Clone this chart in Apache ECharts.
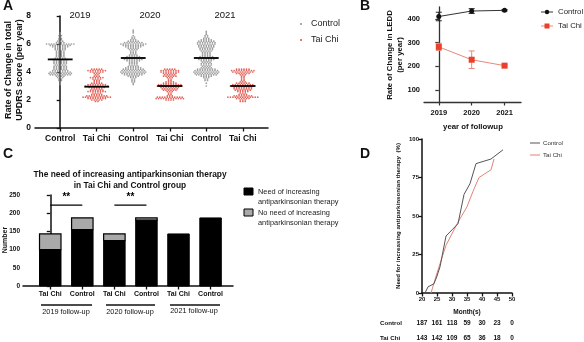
<!DOCTYPE html>
<html><head><meta charset="utf-8">
<script src="https://cdn.jsdelivr.net/npm/echarts@6/dist/echarts.min.js"></script>
<style>html,body{margin:0;padding:0;background:#fff}#chart{width:584px;height:342px}</style>
</head><body><div id="chart"></div>
<script>
const FONT = '"Liberation Sans", Arial, sans-serif';

// ---- Panel A: rate of change in total UPDRS score, binned as [value, count]
const updrsGroups = ['Control', 'Tai Chi', 'Control', 'Tai Chi', 'Control', 'Tai Chi'];
const updrsYears = ['2019', '2020', '2021'];
const ctl2019 = [[3.1,1],[3.2,1],[3.3,1],[3.4,2],[3.5,2],[3.6,3],[3.7,4],[3.8,9],[3.9,10],[4.0,9],[4.1,7],[4.2,6],[4.3,6],[4.4,6],[4.5,5],[4.6,6],[4.7,6],[4.8,6],[4.9,7],[5.0,5],[5.1,4],[5.2,4],[5.3,4],[5.4,4],[5.5,4],[5.6,5],[5.7,5],[5.8,7],[5.9,9],[6.0,12],[6.1,4],[6.2,3],[6.3,2],[6.4,2],[6.5,1],[6.6,2],[6.7,1],[6.8,1]];
const tc2019 = [[1.9,2],[2.0,5],[2.1,8],[2.2,12],[2.3,9],[2.4,5],[2.5,4],[2.6,8],[2.7,6],[2.8,5],[2.9,7],[3.0,10],[3.1,8],[3.2,5],[3.3,3],[3.4,3],[3.5,4],[3.6,6],[3.7,3],[3.8,2],[3.9,3],[4.0,6],[4.1,8],[4.2,5]];
const ctl2020 = [[3.1,1],[3.2,1],[3.3,2],[3.4,2],[3.5,2],[3.6,3],[3.7,5],[3.8,8],[3.9,10],[4.0,11],[4.1,10],[4.2,9],[4.3,7],[4.4,5],[4.5,4],[4.6,4],[4.7,4],[4.8,6],[4.9,8],[5.0,9],[5.1,6],[5.2,4],[5.3,3],[5.4,3],[5.5,3],[5.6,4],[5.7,5],[5.8,7],[5.9,9],[6.0,11],[6.1,8],[6.2,5],[6.3,3],[6.4,2],[6.5,2],[6.6,1],[6.8,1],[6.9,1],[7.0,1]];
const tc2020 = [[2.0,4],[2.1,12],[2.2,11],[2.3,3],[2.4,2],[2.5,2],[2.6,3],[2.7,6],[2.8,7],[2.9,8],[3.0,11],[3.1,10],[3.2,6],[3.3,4],[3.4,2],[3.5,2],[3.6,3],[3.7,6],[3.8,5],[3.9,6],[4.0,8],[4.1,8],[4.2,5]];
const ctl2021 = [[3.0,1],[3.2,1],[3.4,2],[3.5,2],[3.6,3],[3.7,5],[3.8,9],[3.9,10],[4.0,11],[4.1,10],[4.2,8],[4.3,5],[4.4,4],[4.5,5],[4.6,5],[4.7,4],[4.8,5],[4.9,7],[5.0,9],[5.1,6],[5.2,4],[5.3,4],[5.4,4],[5.5,5],[5.6,6],[5.7,6],[5.8,7],[5.9,7],[6.0,8],[6.1,8],[6.2,7],[6.3,5],[6.4,3],[6.5,2],[6.6,2],[6.7,1],[6.8,1],[6.9,1]];
const tc2021 = [[1.9,3],[2.0,3],[2.1,6],[2.2,13],[2.3,8],[2.4,4],[2.5,3],[2.6,5],[2.7,7],[2.8,8],[2.9,8],[3.0,11],[3.1,9],[3.2,6],[3.3,3],[3.4,2],[3.5,2],[3.6,2],[3.7,2],[3.8,3],[3.9,6],[4.0,9],[4.1,10],[4.2,6]];
const updrsMeans = [4.9, 2.95, 5.0, 3.0, 5.0, 3.0];

// ---- Panel B: rate of change in LEDD (mean, error)
const leddYears = ['2019', '2020', '2021'];
const leddControl = [410, 433, 436];
const leddControlErr = [18, 10, 3];
const leddTaiChi = [282, 228, 203];
const leddTaiChiErr = [15, 37, 5];

// ---- Panel C: counts needing / not needing more therapy
const therapyBars = ['Tai Chi', 'Control', 'Tai Chi', 'Control', 'Tai Chi', 'Control'];
const therapyNeed = [100, 155, 125, 181, 143, 187];
const therapyNoNeed = [43, 32, 18, 6, 0, 0];
const followups = ['2019 follow-up', '2020 follow-up', '2021 follow-up'];
const significance = [[0, 1, '**'], [2, 3, '**']];

// ---- Panel D: cumulative need for increasing therapy (%)
const ctlCurve = [[21,0],[22,4],[24,6],[25,11],[26,17],[28,37],[30,41],[32,45],[34,64],[36,71],[38,84],[43,87],[47,93]];
const tcCurve = [[23,0],[25,13],[26,19],[28,31],[32,46],[35,56],[37,66],[39,75],[43,80],[44,87]];
const riskMonths = [20, 25, 30, 35, 40, 45, 50];
const riskControl = [187, 161, 118, 59, 30, 23, 0];
const riskTaiChi = [143, 142, 109, 65, 36, 18, 0];

// beeswarm-style layout: each bin becomes a centred row of points
function swarm(bins, center, step) {
  const pts = [];
  bins.forEach(([v, n]) => {
    for (let k = 0; k < n; k++) pts.push([center + (k - (n - 1) / 2) * step, v]);
  });
  return pts;
}
const swarmSets = [ctl2019, tc2019, ctl2020, tc2020, ctl2021, tc2021];
const GRAY_PT = '#8e8e8e', RED_PT = '#df4a40';

const axisBlack = { lineStyle: { color: '#111', width: 1.5 } };
const tickBlack = { show: true, length: 3.5, lineStyle: { color: '#111', width: 1.3 } };

const series = [];
swarmSets.forEach((bins, i) => {
  series.push({
    type: 'scatter', xAxisIndex: 0, yAxisIndex: 0, silent: true,
    symbol: 'circle', symbolSize: 1.7,
    itemStyle: { color: i % 2 ? RED_PT : GRAY_PT, opacity: 0.85 },
    data: swarm(bins, i, 0.068)
  });
});
series.push({
  type: 'custom', xAxisIndex: 0, yAxisIndex: 0, silent: true, z: 5,
  data: updrsMeans.map((m, i) => [i, m]),
  encode: { x: 0, y: 1 },
  renderItem(params, api) {
    const a = api.coord([api.value(0) - 0.34, api.value(1)]);
    const b = api.coord([api.value(0) + 0.34, api.value(1)]);
    return { type: 'line', shape: { x1: a[0], y1: a[1], x2: b[0], y2: b[1] }, style: { stroke: '#000', lineWidth: 1.8 } };
  }
});

// Panel B lines + error bars
function errSeries(vals, errs, color) {
  return {
    type: 'custom', xAxisIndex: 1, yAxisIndex: 1, silent: true, z: 3,
    data: vals.map((v, i) => [i, v, errs[i]]),
    encode: { x: 0, y: 1 },
    renderItem(params, api) {
      const x = api.value(0), v = api.value(1), e = api.value(2);
      const lo = api.coord([x, v - e]), hi = api.coord([x, v + e]);
      const st = { stroke: color, lineWidth: 1 };
      return { type: 'group', children: [
        { type: 'line', shape: { x1: lo[0], y1: lo[1], x2: hi[0], y2: hi[1] }, style: st },
        { type: 'line', shape: { x1: lo[0] - 3, y1: lo[1], x2: lo[0] + 3, y2: lo[1] }, style: st },
        { type: 'line', shape: { x1: hi[0] - 3, y1: hi[1], x2: hi[0] + 3, y2: hi[1] }, style: st }
      ] };
    }
  };
}
series.push(errSeries(leddControl, leddControlErr, '#222'));
series.push(errSeries(leddTaiChi, leddTaiChiErr, '#e58a7a'));
series.push({
  type: 'line', xAxisIndex: 1, yAxisIndex: 1, silent: true, z: 4,
  data: leddControl.map((v, i) => [i, v]),
  symbol: 'circle', symbolSize: 5,
  lineStyle: { color: '#333', width: 1 }, itemStyle: { color: '#111' }
});
series.push({
  type: 'line', xAxisIndex: 1, yAxisIndex: 1, silent: true, z: 4,
  data: leddTaiChi.map((v, i) => [i, v]),
  symbol: 'rect', symbolSize: 6,
  lineStyle: { color: '#e58a7a', width: 1 }, itemStyle: { color: '#e8402a' }
});

// Panel C stacked bars
series.push({
  type: 'custom', xAxisIndex: 2, yAxisIndex: 2, silent: true,
  data: therapyNeed.map((n, i) => [i, n, therapyNoNeed[i]]),
  encode: { x: 0, y: 1 },
  renderItem(params, api) {
    const x = api.value(0), need = api.value(1), no = api.value(2);
    const w = api.size([0.67, 0])[0];
    const p0 = api.coord([x, 0]), p1 = api.coord([x, need]), p2 = api.coord([x, need + no]);
    const kids = [{ type: 'rect', shape: { x: p0[0] - w / 2, y: p1[1], width: w, height: p0[1] - p1[1] }, style: { fill: '#000', stroke: '#000', lineWidth: 1 } }];
    if (no > 0) kids.push({ type: 'rect', shape: { x: p0[0] - w / 2, y: p2[1], width: w, height: p1[1] - p2[1] }, style: { fill: '#a9a9a9', stroke: '#000', lineWidth: 1.2 } });
    return { type: 'group', children: kids };
  }
});
series.push({
  type: 'custom', xAxisIndex: 2, yAxisIndex: 2, silent: true,
  data: significance.map(s => [s[0], s[1], s[2]]),
  encode: { x: 0 },
  renderItem(params, api) {
    const a = api.coord([api.value(0), 222]), b = api.coord([api.value(1), 222]);
    return { type: 'group', children: [
      { type: 'line', shape: { x1: a[0], y1: a[1], x2: b[0], y2: b[1] }, style: { stroke: '#000', lineWidth: 1.3 } },
      { type: 'text', style: { text: significance[params.dataIndex][2], x: (a[0] + b[0]) / 2, y: a[1] - 3, align: 'center', verticalAlign: 'bottom', font: 'bold 10px ' + FONT, fill: '#000' } }
    ] };
  }
});

// Panel D curves
series.push({
  type: 'line', xAxisIndex: 3, yAxisIndex: 3, silent: true, symbol: 'none',
  data: tcCurve, lineStyle: { color: '#e0837a', width: 1 }
});
series.push({
  type: 'line', xAxisIndex: 3, yAxisIndex: 3, silent: true, symbol: 'none',
  data: ctlCurve, lineStyle: { color: '#555', width: 1 }
});
// numbers at risk, placed under the month ticks
function riskRow(counts, dy) {
  return {
    type: 'custom', xAxisIndex: 3, yAxisIndex: 3, silent: true, clip: false,
    data: riskMonths.map((m, i) => [m, counts[i]]),
    encode: { x: 0 },
    renderItem(params, api) {
      const p = api.coord([api.value(0), 0]);
      return { type: 'text', style: { text: String(api.value(1)), x: p[0], y: p[1] + dy, align: 'center', verticalAlign: 'middle', font: 'bold 6.5px ' + FONT, fill: '#111' } };
    }
  };
}
series.push(riskRow(riskControl, 30));
series.push(riskRow(riskTaiChi, 45));

function txt(text, x, y, font, opts) {
  return Object.assign({ type: 'text', x, y, style: Object.assign({ text, font: font + ' ' + FONT, fill: '#111', align: 'center', verticalAlign: 'middle' }, opts && opts.style || {}) }, opts && opts.el || {});
}
function hline(x1, x2, y, color, w) {
  return { type: 'line', shape: { x1, y1: y, x2, y2: y }, style: { stroke: color, lineWidth: w || 1 } };
}

const graphics = [
  // panel letters
  txt('A', 8, 6, 'bold 14px'), txt('B', 365, 6, 'bold 14px'),
  txt('C', 8, 154, 'bold 14px'), txt('D', 365, 154, 'bold 14px'),
  // panel A
  txt(updrsYears[0], 80, 15, '9.5px'), txt(updrsYears[1], 150, 15, '9.5px'), txt(updrsYears[2], 225, 15, '9.5px'),
  { type: 'text', x: 14.5, y: 70, rotation: Math.PI / 2, style: { text: 'Rate of Change in total\nUPDRS score (per year)', font: 'bold 9px ' + FONT, fill: '#111', align: 'center', verticalAlign: 'middle', lineHeight: 11 } },
  { type: 'circle', shape: { cx: 301, cy: 24, r: 1 }, style: { fill: GRAY_PT } },
  { type: 'circle', shape: { cx: 301, cy: 40, r: 1 }, style: { fill: RED_PT } },
  txt('Control', 311, 24, '9px', { style: { align: 'left', fill: '#222' } }),
  txt('Tai Chi', 311, 40, '9px', { style: { align: 'left', fill: '#222' } }),
  // panel B
  { type: 'text', x: 395, y: 55, rotation: Math.PI / 2, style: { text: 'Rate of Change in LEDD\n(per year)', font: 'bold 7.8px ' + FONT, fill: '#111', align: 'center', verticalAlign: 'middle', lineHeight: 10 } },
  txt('year of followup', 473, 127, 'bold 7.8px'),
  hline(541, 553, 12, '#333', 1), { type: 'circle', shape: { cx: 547, cy: 12, r: 2.2 }, style: { fill: '#111' } },
  hline(541, 553, 26, '#e58a7a', 1), { type: 'rect', shape: { x: 544.5, y: 23.5, width: 5, height: 5 }, style: { fill: '#e8402a' } },
  txt('Control', 558, 12, '7.8px', { style: { align: 'left', fill: '#222' } }),
  txt('Tai Chi', 558, 26, '7.8px', { style: { align: 'left', fill: '#222' } }),
  // panel C
  txt('The need of increasing antiparkinsonian therapy\nin Tai Chi and Control group', 130, 180, 'bold 8.4px', { style: { lineHeight: 10.5 } }),
  { type: 'text', x: 5, y: 240, rotation: Math.PI / 2, style: { text: 'Number', font: 'bold 7px ' + FONT, fill: '#111', align: 'center', verticalAlign: 'middle' } },
  hline(41, 92, 305, '#111', 1.3), hline(106, 155, 305, '#111', 1.3), hline(170, 220, 305, '#111', 1.3),
  txt(followups[0], 66, 312, '7.3px'), txt(followups[1], 130, 312, '7.3px'), txt(followups[2], 194, 311, '7.3px'),
  { type: 'rect', shape: { x: 244, y: 188, width: 9, height: 7 }, style: { fill: '#000', stroke: '#000' } },
  { type: 'rect', shape: { x: 244, y: 209, width: 9, height: 7 }, style: { fill: '#a9a9a9', stroke: '#000', lineWidth: 1 } },
  txt('Need of increasing\nantiparkinsonian therapy', 258, 197, '7.4px', { style: { align: 'left', lineHeight: 9.5, fill: '#222' } }),
  txt('No need of increasing\nantiparkinsonian therapy', 258, 218, '7.4px', { style: { align: 'left', lineHeight: 9.5, fill: '#222' } }),
  // panel D
  { type: 'text', x: 398, y: 216, rotation: Math.PI / 2, style: { text: 'Need for increasing antiparkinsonian therapy  (%)', font: 'bold 6.2px ' + FONT, fill: '#111', align: 'center', verticalAlign: 'middle' } },
  txt('Month(s)', 467, 312, 'bold 6.5px'),
  txt('Control', 380, 323, 'bold 6.2px', { style: { align: 'left' } }),
  txt('Tai Chi', 380, 338, 'bold 6.2px', { style: { align: 'left' } }),
  hline(530, 540, 143, '#555', 1), hline(530, 540, 155, '#e0837a', 1),
  txt('Control', 543, 143, '6.2px', { style: { align: 'left', fill: '#333' } }),
  txt('Tai Chi', 543, 155, '6.2px', { style: { align: 'left', fill: '#333' } })
];

const chart = echarts.init(document.getElementById('chart'), null, { renderer: 'canvas' });
chart.setOption({
  animation: false,
  backgroundColor: '#fff',
  textStyle: { fontFamily: FONT },
  grid: [
    { left: 35, top: 16, width: 233, height: 112 },
    { left: 424, top: 7, width: 97, height: 95 },
    { left: 23, top: 195, width: 210, height: 91 },
    { left: 422, top: 139, width: 90, height: 154 }
  ],
  xAxis: [
    { gridIndex: 0, type: 'value', min: -0.69, max: 5.69, splitLine: { show: false },
      axisLine: axisBlack, axisTick: Object.assign({ customValues: [0, 1, 2, 3, 4, 5] }, tickBlack),
      axisLabel: { customValues: [0, 1, 2, 3, 4, 5], formatter: v => updrsGroups[Math.round(v)], fontWeight: 'bold', fontSize: 8.5, color: '#111', margin: 6 } },
    { gridIndex: 1, type: 'value', min: -0.45, max: 2.5, splitLine: { show: false },
      axisLine: { lineStyle: { color: '#333', width: 1.3 } }, axisTick: { show: true, customValues: [0, 1, 2], length: 3.5, lineStyle: { color: '#333', width: 1.2 } },
      axisLabel: { customValues: [0, 1, 2], formatter: v => leddYears[Math.round(v)], fontWeight: 'bold', fontSize: 7.5, color: '#111', margin: 7 } },
    { gridIndex: 2, type: 'value', min: -0.85, max: 5.7, splitLine: { show: false },
      axisLine: axisBlack, axisTick: Object.assign({ customValues: [0, 1, 2, 3, 4, 5] }, tickBlack),
      axisLabel: { customValues: [0, 1, 2, 3, 4, 5], formatter: v => therapyBars[Math.round(v)], fontWeight: 'bold', fontSize: 7, color: '#111', margin: 5 } },
    { gridIndex: 3, type: 'value', min: 20, max: 50, interval: 5, splitLine: { show: false },
      axisLine: axisBlack, axisTick: tickBlack,
      axisLabel: { fontWeight: 'bold', fontSize: 6, color: '#111', margin: 3 } }
  ],
  yAxis: [
    { gridIndex: 0, type: 'value', min: 0, max: 8, interval: 2, splitLine: { show: false },
      axisLine: Object.assign({ show: true }, axisBlack), axisTick: tickBlack,
      axisLabel: { fontWeight: 'bold', fontSize: 8.5, color: '#111', margin: 4 } },
    { gridIndex: 1, type: 'value', min: 50, max: 450, splitLine: { show: false },
      axisLine: { show: true, lineStyle: { color: '#333', width: 1.3 } },
      axisTick: { show: true, customValues: [100, 200, 300, 400], length: 3.5, lineStyle: { color: '#333', width: 1.2 } },
      axisLabel: { customValues: [100, 200, 300, 400], fontWeight: 'bold', fontSize: 7.5, color: '#111', margin: 4 } },
    { gridIndex: 2, type: 'value', min: 0, max: 250, interval: 50, splitLine: { show: false },
      axisLine: Object.assign({ show: true }, axisBlack), axisTick: tickBlack,
      axisLabel: { fontWeight: 'bold', fontSize: 6.5, color: '#111', margin: 3 } },
    { gridIndex: 3, type: 'value', min: 0, max: 100, interval: 25, splitLine: { show: false },
      axisLine: Object.assign({ show: true }, axisBlack), axisTick: tickBlack,
      axisLabel: { fontWeight: 'bold', fontSize: 6, color: '#111', margin: 3 } }
  ],
  series,
  graphic: graphics
});
</script></body></html>
